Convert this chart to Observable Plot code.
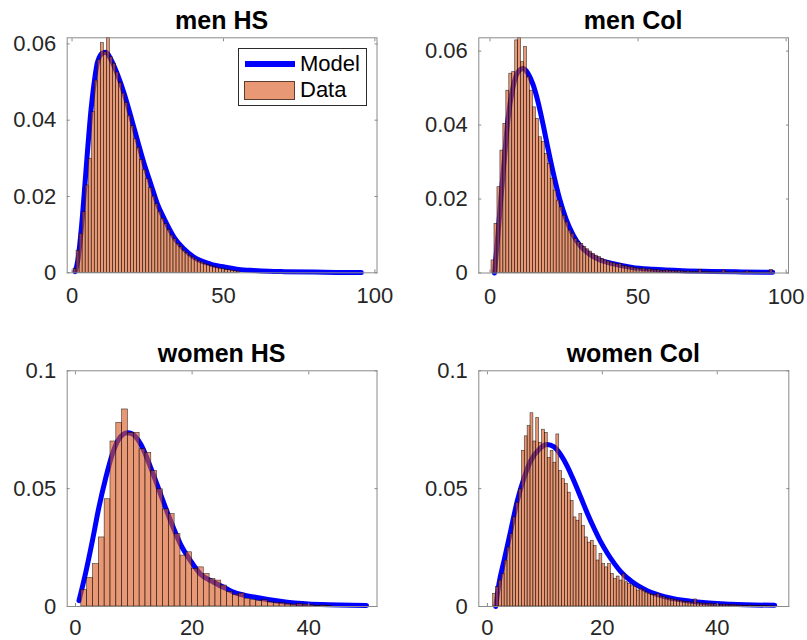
<!DOCTYPE html>
<html>
<head>
<meta charset="utf-8">
<script src="https://cdn.jsdelivr.net/npm/d3@7"></script>
<script src="https://cdn.jsdelivr.net/npm/@observablehq/plot@0.6"></script>
<style>
  html, body { margin: 0; padding: 0; background: #fff; }
  #chart { position: relative; width: 807px; height: 640px; overflow: hidden;
           font-family: "Liberation Sans", Arial, Helvetica, sans-serif; }
  .panel { position: absolute; }
  .title { position: absolute; width: 300px; text-align: center; font-weight: bold;
           font-size: 25px; line-height: 25px; color: #000; white-space: nowrap; }
  .legend { position: absolute; border: 1px solid #2b2b2b; background: #fff; box-sizing: border-box; }
  .lg { position: absolute; }
  .lgtext { position: absolute; font-size: 22px; line-height: 22px; color: #000; white-space: nowrap; }
</style>
</head>
<body>
<div id="chart"></div>
<script>
// ---------------- data ----------------
const titles = ["men HS", "men Col", "women HS", "women Col"];
const legendLabels = ["Model", "Data"];

// histogram heights (probability density), men: bins of width 1 centred on 1,2,3,...
const menHS_bars = [0.0010,0.0058,0.0102,0.0159,0.0229,0.0299,0.0421,0.0504,0.0558,0.0602,
  0.0578,0.0616,0.0565,0.0548,0.0525,0.0497,0.0470,0.0445,0.0412,0.0385,
  0.0350,0.0328,0.0296,0.0270,0.0246,0.0222,0.0200,0.0180,0.0160,0.0142,
  0.0128,0.0112,0.0098,0.0088,0.0076,0.0068,0.0058,0.0052,0.0045,0.0040,
  0.0035,0.0030,0.0027,0.0023,0.0020,0.0018,0.0015,0.0013,0.0011,0.0010,
  0.0008,0.0007,0.0005,0.0004,0.0003];
const menHS_binStart = 0.5, menHS_binWidth = 1;
const menHS_modelX = [1.0,1.9,3.0,4.1,5.2,6.3,7.4,8.4,10.1,11.2,12.8,15.0,17.2,19.4,21.6,23.8,26.0,28.2,30.4,33.7,36.9,40.2,45.7,51.2,55,60,65,70,80,90,95.5];
const menHS_modelY = [0.0003,0.0032,0.0110,0.0216,0.0329,0.0430,0.0504,0.0552,0.0576,0.0578,0.0560,0.0520,0.0470,0.0410,0.0347,0.0286,0.0233,0.0180,0.0142,0.0093,0.0063,0.0041,0.0023,0.0014,0.0009,0.0006,0.0004,0.0003,0.0002,0.0001,0.0001];

const menCol_bars = [0.0034,0.0133,0.0232,0.0331,0.0403,0.0493,0.0539,0.0543,0.0629,0.0636,
  0.0570,0.0611,0.0530,0.0493,0.0448,0.0417,0.0367,0.0354,0.0322,0.0295,
  0.0255,0.0223,0.0196,0.0178,0.0155,0.0137,0.0115,0.0106,0.0092,0.0083,
  0.0078,0.0070,0.0064,0.0058,0.0052,0.0047,0.0043,0.0038,0.0034,0.0031,
  0.0028,0.0026,0.0023,0.0024,0.0019,0.0018,0.0016,0.0015,0.0013,0.0012,
  0.0011,0.0012,0.0009,0.0010,0.0008,0.0007,0.0008,0.0006,0.0006,0.0007,
  0.0005,0.0005,0.0004,0.0005,0.0004,0.0003,0.0004,0.0003,0.0003,0.0002,
  0.0008,0.0002,0.0003,0.0002,0.0002,0.0001,0.0002,0.0001,0.0007,0.0002,
  0.0001,0.0001,0.0002,0.0001,0.0001,0.0001,0.0004,0.0002,0.0001,0.0001,
  0.0001,0.0001,0.0001,0.0001,0.0008];
const menCol_binStart = 0.5, menCol_binWidth = 1;
const menCol_modelX = [1.5,2.6,3.7,4.9,6.0,7.7,9.4,11.1,12.8,14.5,16.2,17.9,19.6,21.3,23.5,25.8,28.0,30.3,33.7,37.1,41.6,48,55,65,75,85,95.5];
const menCol_modelY = [0.0000,0.0097,0.0205,0.0314,0.0412,0.0500,0.0543,0.0553,0.0540,0.0510,0.0463,0.0402,0.0335,0.0272,0.0200,0.0143,0.0104,0.0075,0.0050,0.0035,0.0025,0.0015,0.0010,0.0006,0.0004,0.0003,0.0002];

// women HS: bins of width 1 starting at 1
const womenHS_bars = [0.0070,0.0121,0.0180,0.0293,0.0455,0.0700,0.0779,0.0836,0.0737,0.0737,
  0.0667,0.0652,0.0575,0.0497,0.0412,0.0392,0.0307,0.0216,0.0230,0.0160,
  0.0166,0.0138,0.0117,0.0110,0.0089,0.0062,0.0050,0.0055,0.0033,0.0028,
  0.0023,0.0027,0.0018,0.0015,0.0014,0.0011,0.0008,0.0010,0.0008,0.0005,
  0.0003,0.0004,0.0002];
const womenHS_binStart = 1, womenHS_binWidth = 1;
const womenHS_modelX = [0.6,1.7,2.9,4.0,5.2,6.3,7.4,8.9,9.7,11.2,12.9,14.6,16.3,18.0,19.7,21.4,23.7,26.0,27.2,30.6,36.3,42.0,49.9];
const womenHS_modelY = [0.0025,0.0138,0.0279,0.0419,0.0547,0.0645,0.0709,0.0737,0.0733,0.0688,0.0589,0.0476,0.0364,0.0265,0.0195,0.0138,0.0103,0.0074,0.0060,0.0040,0.0018,0.0008,0.0004];

// women Col: bins of width 0.5 starting at 1
const womenCol_bars = [0.0054,0.0082,0.0110,0.0138,0.0195,0.0250,0.0307,0.0378,0.0440,0.0497,
  0.0660,0.0722,0.0765,0.0820,0.0700,0.0800,0.0694,0.0750,0.0737,0.0630,
  0.0660,0.0610,0.0730,0.0575,0.0540,0.0520,0.0483,0.0448,0.0378,0.0364,
  0.0392,0.0342,0.0293,0.0271,0.0279,0.0257,0.0195,0.0223,0.0180,0.0166,
  0.0180,0.0138,0.0117,0.0127,0.0110,0.0138,0.0103,0.0096,0.0089,0.0082,
  0.0068,0.0075,0.0068,0.0060,0.0055,0.0050,0.0048,0.0052,0.0042,0.0040,
  0.0034,0.0033,0.0030,0.0028,0.0025,0.0024,0.0020,0.0019,0.0018,0.0016,
  0.0030,0.0015,0.0013,0.0012,0.0011,0.0012,0.0009,0.0010,0.0008,0.0007,
  0.0008,0.0006,0.0005,0.0006,0.0005,0.0004,0.0004,0.0003,0.0003,0.0004,
  0.0002,0.0003,0.0002,0.0002,0.0001,0.0002,0.0001,0.0001];
const womenCol_binStart = 1, womenCol_binWidth = 0.5;
const womenCol_modelX = [1.45,2.0,2.9,4.05,5.2,6.4,7.5,9.0,10.4,11.6,12.8,13.9,15.1,16.3,17.4,18.6,19.7,20.9,22.1,23.2,25.0,26.4,27.9,30.8,36.6,42.4,50];
const womenCol_modelY = [0.0000,0.0095,0.0195,0.0321,0.0448,0.0547,0.0617,0.0667,0.0687,0.0677,0.0642,0.0595,0.0530,0.0460,0.0395,0.0330,0.0275,0.0225,0.0182,0.0148,0.0108,0.0085,0.0066,0.0042,0.0019,0.0010,0.0005];

// ticks
const menXTicks = [0, 50, 100], menXLabels = ["0", "50", "100"];
const menYTicks = [0, 0.02, 0.04, 0.06], menYLabels = ["0", "0.02", "0.04", "0.06"];
const womenXTicks = [0, 20, 40], womenXLabels = ["0", "20", "40"];
const womenYTicks = [0, 0.05, 0.1], womenYLabels = ["0", "0.05", "0.1"];

// ---------------- drawing ----------------
const FRAME = "#8a8a8a", TEXT = "#262626", BLUE = "#0000ff", ORANGE = "#D95319";
const chart = document.getElementById("chart");

function labeler(ticks, labels) { return d => labels[ticks.indexOf(d)]; }

const panels = [
  {title: titles[0], bars: menHS_bars, binStart: menHS_binStart, binWidth: menHS_binWidth,
   mx: menHS_modelX, my: menHS_modelY, xDomain: [-1.6, 100.7], yDomain: [0, 0.0616],
   xTicks: menXTicks, xLabels: menXLabels, yTicks: menYTicks, yLabels: menYLabels,
   left: 0, top: 0, w: 403, h: 320, mL: 66.7, mR: 26.5, mT: 37.3, mB: 47.7, pad: 15},
  {title: titles[1], bars: menCol_bars, binStart: menCol_binStart, binWidth: menCol_binWidth,
   mx: menCol_modelX, my: menCol_modelY, xDomain: [-3.8, 100.8], yDomain: [0, 0.0636],
   xTicks: menXTicks, xLabels: menXLabels, yTicks: menYTicks, yLabels: menYLabels,
   left: 403, top: 0, w: 404, h: 320, mL: 75.3, mR: 19, mT: 37.3, mB: 47.5, pad: 15},
  {title: titles[2], bars: womenHS_bars, binStart: womenHS_binStart, binWidth: womenHS_binWidth,
   mx: womenHS_modelX, my: womenHS_modelY, xDomain: [-1.42, 51.7], yDomain: [0, 0.1],
   xTicks: womenXTicks, xLabels: womenXLabels, yTicks: womenYTicks, yLabels: womenYLabels,
   left: 0, top: 320, w: 403, h: 320, mL: 66.7, mR: 26.5, mT: 50.3, mB: 34, pad: 12.5},
  {title: titles[3], bars: womenCol_bars, binStart: womenCol_binStart, binWidth: womenCol_binWidth,
   mx: womenCol_modelX, my: womenCol_modelY, xDomain: [-1.5, 52.45], yDomain: [0, 0.1],
   xTicks: womenXTicks, xLabels: womenXLabels, yTicks: womenYTicks, yLabels: womenYLabels,
   left: 403, top: 320, w: 404, h: 320, mL: 75.3, mR: 18.7, mT: 50.3, mB: 34, pad: 12.5}
];

panels.forEach((p, idx) => {
  const bars = p.bars.map((v, i) => ({x1: p.binStart + i * p.binWidth, x2: p.binStart + (i + 1) * p.binWidth, y: v}));
  const model = p.mx.map((x, i) => ({x, y: p.my[i]}));
  const svg = Plot.plot({
    width: p.w, height: p.h,
    marginLeft: p.mL, marginRight: p.mR, marginTop: p.mT, marginBottom: p.mB,
    x: {domain: p.xDomain, label: null},
    y: {domain: p.yDomain, label: null},
    style: {fontFamily: '"Liberation Sans", Arial, Helvetica, sans-serif', fontSize: "22px",
            color: TEXT, background: "transparent", overflow: "visible"},
    marks: [
      Plot.line(model, {x: "x", y: "y", stroke: BLUE, strokeWidth: 5, curve: "monotone-x"}),
      Plot.rect(bars, {x1: "x1", x2: "x2", y1: 0, y2: "y", fill: ORANGE, fillOpacity: 0.6,
                       stroke: "#000", strokeOpacity: 0.75, strokeWidth: 0.6}),
      Plot.frame({stroke: FRAME, strokeWidth: 1}),
      Plot.axisX(p.xTicks, {anchor: "bottom", tickSize: -3, fill: "none", stroke: FRAME, label: null}),
      Plot.axisX(p.xTicks, {anchor: "top", tickSize: -3, fill: "none", stroke: FRAME, label: null}),
      Plot.axisY(p.yTicks, {anchor: "left", tickSize: -3, fill: "none", stroke: FRAME, label: null}),
      Plot.axisY(p.yTicks, {anchor: "right", tickSize: -3, fill: "none", stroke: FRAME, label: null}),
      Plot.axisX(p.xTicks, {anchor: "bottom", tickSize: 0, tickPadding: p.pad, fill: TEXT, fontSize: 22,
                            label: null, tickFormat: labeler(p.xTicks, p.xLabels)}),
      Plot.axisY(p.yTicks, {anchor: "left", tickSize: 0, tickPadding: 11, fill: TEXT, fontSize: 22,
                            label: null, tickFormat: labeler(p.yTicks, p.yLabels)})
    ]
  });
  const div = document.createElement("div");
  div.className = "panel";
  div.style.left = p.left + "px";
  div.style.top = p.top + "px";
  div.appendChild(svg);
  chart.appendChild(div);

  const t = document.createElement("div");
  t.className = "title";
  t.textContent = p.title;
  const cx = p.left + p.mL + (p.w - p.mL - p.mR) / 2;
  t.style.left = (cx - 150) + "px";
  t.style.top = (p.top + (idx < 2 ? 8 : 21)) + "px";
  chart.appendChild(t);
});

// legend (in first panel)
const lg = document.createElement("div");
lg.className = "legend";
Object.assign(lg.style, {left: "238px", top: "48px", width: "129px", height: "58px"});
chart.appendChild(lg);
const lgLine = document.createElement("div");
lgLine.className = "lg";
Object.assign(lgLine.style, {left: "245px", top: "60.5px", width: "50px", height: "6px", background: BLUE});
chart.appendChild(lgLine);
const lgPatch = document.createElement("div");
lgPatch.className = "lg";
Object.assign(lgPatch.style, {left: "244px", top: "80.5px", width: "51px", height: "19px", boxSizing: "border-box",
  background: "rgba(217,83,25,0.6)", border: "1px solid rgba(0,0,0,0.6)"});
chart.appendChild(lgPatch);
legendLabels.forEach((s, i) => {
  const d = document.createElement("div");
  d.className = "lgtext";
  d.textContent = s;
  d.style.left = "300px";
  d.style.top = (i === 0 ? 53 : 79) + "px";
  chart.appendChild(d);
});
</script>
</body>
</html>
